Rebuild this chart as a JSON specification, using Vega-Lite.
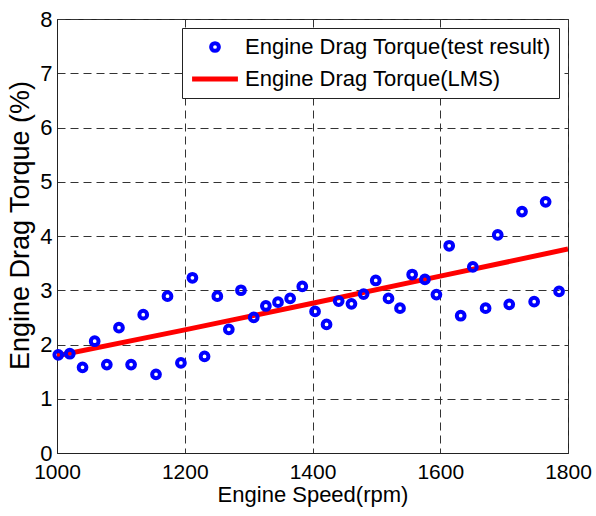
{
  "$schema": "https://vega.github.io/schema/vega-lite/v6.json",
  "width": 511,
  "height": 434,
  "autosize": {"type": "none"},
  "padding": {"left": 57, "top": 19, "right": 28, "bottom": 63},
  "background": "white",
  "config": {
    "font": "Liberation Sans",
    "view": {"stroke": "#222", "strokeWidth": 1}
  },
  "datasets": {
    "test": [
      {"rpm": 1002, "torque": 1.81, "series": "Engine Drag Torque(test result)"},
      {"rpm": 1020, "torque": 1.83, "series": "Engine Drag Torque(test result)"},
      {"rpm": 1040, "torque": 1.58, "series": "Engine Drag Torque(test result)"},
      {"rpm": 1059, "torque": 2.06, "series": "Engine Drag Torque(test result)"},
      {"rpm": 1078, "torque": 1.63, "series": "Engine Drag Torque(test result)"},
      {"rpm": 1097, "torque": 2.31, "series": "Engine Drag Torque(test result)"},
      {"rpm": 1116, "torque": 1.63, "series": "Engine Drag Torque(test result)"},
      {"rpm": 1135, "torque": 2.55, "series": "Engine Drag Torque(test result)"},
      {"rpm": 1155, "torque": 1.45, "series": "Engine Drag Torque(test result)"},
      {"rpm": 1173, "torque": 2.89, "series": "Engine Drag Torque(test result)"},
      {"rpm": 1194, "torque": 1.66, "series": "Engine Drag Torque(test result)"},
      {"rpm": 1212, "torque": 3.23, "series": "Engine Drag Torque(test result)"},
      {"rpm": 1231, "torque": 1.78, "series": "Engine Drag Torque(test result)"},
      {"rpm": 1251, "torque": 2.89, "series": "Engine Drag Torque(test result)"},
      {"rpm": 1269, "torque": 2.28, "series": "Engine Drag Torque(test result)"},
      {"rpm": 1288, "torque": 3.0, "series": "Engine Drag Torque(test result)"},
      {"rpm": 1308, "torque": 2.5, "series": "Engine Drag Torque(test result)"},
      {"rpm": 1327, "torque": 2.71, "series": "Engine Drag Torque(test result)"},
      {"rpm": 1346, "torque": 2.78, "series": "Engine Drag Torque(test result)"},
      {"rpm": 1365, "torque": 2.85, "series": "Engine Drag Torque(test result)"},
      {"rpm": 1384, "torque": 3.07, "series": "Engine Drag Torque(test result)"},
      {"rpm": 1404, "torque": 2.61, "series": "Engine Drag Torque(test result)"},
      {"rpm": 1422, "torque": 2.37, "series": "Engine Drag Torque(test result)"},
      {"rpm": 1441, "torque": 2.8, "series": "Engine Drag Torque(test result)"},
      {"rpm": 1461, "torque": 2.75, "series": "Engine Drag Torque(test result)"},
      {"rpm": 1480, "torque": 2.93, "series": "Engine Drag Torque(test result)"},
      {"rpm": 1499, "torque": 3.18, "series": "Engine Drag Torque(test result)"},
      {"rpm": 1519, "torque": 2.85, "series": "Engine Drag Torque(test result)"},
      {"rpm": 1537, "torque": 2.67, "series": "Engine Drag Torque(test result)"},
      {"rpm": 1556, "torque": 3.29, "series": "Engine Drag Torque(test result)"},
      {"rpm": 1576, "torque": 3.2, "series": "Engine Drag Torque(test result)"},
      {"rpm": 1594, "torque": 2.92, "series": "Engine Drag Torque(test result)"},
      {"rpm": 1614, "torque": 3.82, "series": "Engine Drag Torque(test result)"},
      {"rpm": 1632, "torque": 2.53, "series": "Engine Drag Torque(test result)"},
      {"rpm": 1651, "torque": 3.43, "series": "Engine Drag Torque(test result)"},
      {"rpm": 1671, "torque": 2.67, "series": "Engine Drag Torque(test result)"},
      {"rpm": 1690, "torque": 4.02, "series": "Engine Drag Torque(test result)"},
      {"rpm": 1708, "torque": 2.74, "series": "Engine Drag Torque(test result)"},
      {"rpm": 1728, "torque": 4.45, "series": "Engine Drag Torque(test result)"},
      {"rpm": 1747, "torque": 2.79, "series": "Engine Drag Torque(test result)"},
      {"rpm": 1765, "torque": 4.63, "series": "Engine Drag Torque(test result)"},
      {"rpm": 1786, "torque": 2.98, "series": "Engine Drag Torque(test result)"}
    ],
    "lms": [
      {"rpm": 1000, "torque": 1.79, "series": "Engine Drag Torque(LMS)"},
      {"rpm": 1200, "torque": 2.27, "series": "Engine Drag Torque(LMS)"},
      {"rpm": 1400, "torque": 2.76, "series": "Engine Drag Torque(LMS)"},
      {"rpm": 1600, "torque": 3.26, "series": "Engine Drag Torque(LMS)"},
      {"rpm": 1800, "torque": 3.76, "series": "Engine Drag Torque(LMS)"}
    ]
  },
  "encoding": {
    "x": {
      "field": "rpm", "type": "quantitative",
      "scale": {"domain": [1000, 1800], "nice": false, "zero": false},
      "axis": {
        "values": [1000, 1200, 1400, 1600, 1800],
        "format": "d",
        "title": "Engine Speed(rpm)",
        "titleFontSize": 22, "titleFontWeight": "normal", "titleColor": "black",
        "titleBaseline": "alphabetic", "titleY": 48, "titleX": 255.5, "titleAlign": "center",
        "labelFontSize": 21, "labelColor": "black", "labelPadding": 8,
        "labelFlush": false, "labelOverlap": false,
        "ticks": false, "domainColor": "#222",
        "grid": true, "gridColor": "#333", "gridDash": [8, 5], "gridWidth": 1
      }
    },
    "y": {
      "field": "torque", "type": "quantitative",
      "scale": {"domain": [0, 8], "nice": false},
      "axis": {
        "values": [0, 1, 2, 3, 4, 5, 6, 7, 8],
        "title": "Engine Drag Torque (%)",
        "titleFontSize": 27, "titleFontWeight": "normal", "titleColor": "black",
        "titleAngle": -90, "titleBaseline": "alphabetic", "titleX": -29, "titleY": 206, "titleAlign": "center",
        "labelFontSize": 22, "labelColor": "black", "labelPadding": 5,
        "labelFlush": false, "labelOverlap": false,
        "ticks": false, "domainColor": "#222",
        "grid": true, "gridColor": "#333", "gridDash": [8, 5], "gridWidth": 1
      }
    },
    "color": {
      "field": "series", "type": "nominal",
      "scale": {
        "domain": ["Engine Drag Torque(test result)", "Engine Drag Torque(LMS)"],
        "range": ["#0000FF", "#FF0000"]
      },
      "legend": {
        "orient": "none", "legendX": 125, "legendY": 9,
        "title": null,
        "fillColor": "white", "strokeColor": "#222",
        "padding": 8,
        "labelFontSize": 22, "labelColor": "black", "labelOffset": 19,
        "labelLimit": 500,
        "symbolOffset": 14,
        "rowPadding": 9,
        "symbolSize": 2100,
        "encode": {
          "symbols": {
            "update": {
              "shape": {"signal": "datum.value === 'Engine Drag Torque(LMS)' ? 'stroke' : 'circle'"},
              "size": {"signal": "datum.value === 'Engine Drag Torque(LMS)' ? 2100 : 60"},
              "strokeWidth": {"signal": "datum.value === 'Engine Drag Torque(LMS)' ? 5 : 4"},
              "fill": {"value": "transparent"},
              "fillOpacity": {"value": 0}
            }
          }
        }
      }
    }
  },
  "layer": [
    {
      "data": {"name": "lms"},
      "mark": {"type": "line", "strokeWidth": 5, "clip": true}
    },
    {
      "data": {"name": "test"},
      "mark": {"type": "point", "shape": "circle", "filled": false, "size": 60, "strokeWidth": 4, "opacity": 1}
    }
  ]
}
